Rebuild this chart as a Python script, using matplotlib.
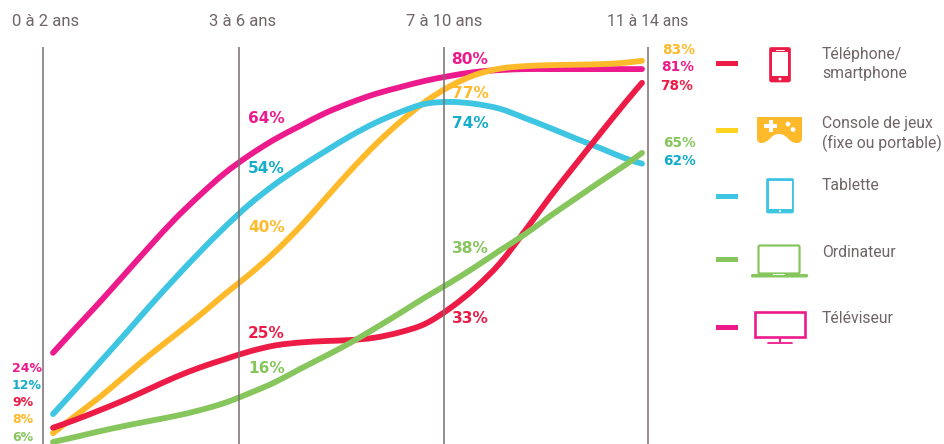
import matplotlib
matplotlib.use('Agg')
import matplotlib.pyplot as plt
from matplotlib.patches import Rectangle, FancyBboxPatch, PathPatch, Circle
from matplotlib.path import Path

plt.rcParams['font.family'] = ['Roboto', 'DejaVu Sans']

age_groups = ['0 à 2 ans', '3 à 6 ans', '7 à 10 ans', '11 à 14 ans']
devices = ['Téléphone/\nsmartphone', 'Console de jeux\n(fixe ou portable)', 'Tablette', 'Ordinateur', 'Téléviseur']

# horizontal position along the age scale
curve_x = [53, 75, 100, 125, 150, 175, 200, 225, 250, 275, 300, 325, 350, 375, 400, 425, 450,
           475, 500, 525, 550, 575, 600, 625, 642]

televiseur = [24.0, 28.9, 34.4, 40.1, 45.8, 51.3, 56.2, 60.7, 64.4, 67.6, 70.3, 72.9, 75.0, 76.8,
              78.2, 79.5, 80.5, 81.3, 81.7, 81.9, 81.9, 81.9, 81.9, 81.9, 81.9]
tablette = [11.5, 16.4, 22.1, 27.8, 33.6, 39.2, 44.6, 49.7, 54.4, 58.4, 61.9, 65.1, 68.2, 70.9,
            73.1, 74.8, 75.2, 74.8, 73.8, 71.9, 69.9, 67.8, 65.8, 63.7, 62.6]
console = [7.6, 11.1, 15.0, 19.3, 23.6, 27.6, 31.7, 36.0, 40.1, 44.6, 49.7, 55.4, 61.1, 66.4,
           71.1, 75.2, 78.4, 80.7, 82.0, 82.5, 82.7, 82.8, 82.9, 83.2, 83.6]
telephone = [8.7, 10.3, 12.3, 14.4, 16.7, 19.0, 21.0, 22.7, 24.3, 25.5, 26.1, 26.4, 26.6, 27.1,
             28.2, 29.9, 33.1, 37.2, 42.3, 48.9, 55.8, 62.3, 68.7, 75.0, 79.1]
ordinateur = [5.8, 6.8, 8.0, 9.1, 10.1, 11.1, 12.3, 13.8, 15.8, 18.0, 20.7, 23.3, 26.0, 29.0,
              32.1, 35.3, 38.3, 41.5, 44.9, 48.2, 51.9, 55.4, 58.9, 62.3, 64.8]

RED = '#ed1c47'
YELLOW = '#ffba2b'
BLUE = '#3ec5e2'
GREEN = '#87c65d'
PINK = '#ec1a8c'
BLUE_TXT = '#14adca'
GREY = '#6f6466'


def smooth_path(xs, ys):
    # bezier through the read points
    verts = [(xs[0], ys[0])]
    codes = [Path.MOVETO]
    n = len(xs)
    for i in range(n - 1):
        a = max(i - 1, 0)
        d = min(i + 2, n - 1)
        verts.append((xs[i] + (xs[i + 1] - xs[a]) / 6, ys[i] + (ys[i + 1] - ys[a]) / 6))
        verts.append((xs[i + 1] - (xs[d] - xs[i]) / 6, ys[i + 1] - (ys[d] - ys[i]) / 6))
        verts.append((xs[i + 1], ys[i + 1]))
        codes += [Path.CURVE4, Path.CURVE4, Path.CURVE4]
    return Path(verts, codes)


fig = plt.figure(figsize=(9.44, 4.44), dpi=100)
ax = fig.add_axes([0, 0, 1, 1])
ax.set_xlim(0, 944)
ax.set_ylim(5.39, 96.0)
ax.axis('off')

# overlay in picture units for texts and icons
px = fig.add_axes([0, 0, 1, 1], zorder=3)
px.set_xlim(0, 944)
px.set_ylim(444, 0)
px.axis('off')
px.patch.set_alpha(0)

for x, c, w in zip([43, 239, 444, 648], ['#77706f', '#77706f', '#77706f', '#979192'], [1.1, 1.1, 1.1, 1.5]):
    ax.plot([x, x], [5.39, 86.5], color=c, lw=w, solid_capstyle='butt')

for series, color in [(televiseur, PINK), (console, YELLOW), (tablette, BLUE), (telephone, RED), (ordinateur, GREEN)]:
    ax.add_patch(PathPatch(smooth_path(curve_x, series), fc='none', ec=color, lw=4.2,
                           capstyle='round', joinstyle='round'))

for label, x, s in zip(age_groups, [46, 243, 444, 648], [12, 12, 12, 11.3]):
    px.text(x, 21, label, color=GREY, fontsize=s, ha='center', va='center')

# percentage labels: text, x, y, colour, size
labels = [
    ('24%', 12, 368, PINK, 9), ('12%', 12, 385, BLUE_TXT, 9), ('9%', 12, 402, RED, 9),
    ('8%', 12, 419, YELLOW, 9), ('6%', 12, 437, GREEN, 9),
    ('64%', 248, 118, PINK, 11.1), ('54%', 248, 168, BLUE_TXT, 11.1), ('40%', 248, 227, YELLOW, 11.1),
    ('25%', 248, 333, RED, 11.1), ('16%', 248, 368, GREEN, 11.1),
    ('80%', 451, 59, PINK, 11.1), ('77%', 452, 94, YELLOW, 11.1), ('74%', 452, 123, BLUE_TXT, 11.1),
    ('38%', 452, 248, GREEN, 11.1), ('33%', 452, 318, RED, 11.1),
    ('83%', 662, 50, YELLOW, 9.8), ('81%', 661, 67, PINK, 9.8), ('78%', 660, 86, RED, 9.8),
    ('65%', 663, 143, GREEN, 9.8), ('62%', 663, 161, BLUE_TXT, 9.8),
]
for t, x, y, c, s in labels:
    px.text(x, y, t, color=c, fontsize=s, fontweight='bold', family='DejaVu Sans',
            ha='left', va='center')

# legend dashes and labels
for y, c in zip([64, 130, 196, 259, 327], [RED, '#ffd420', BLUE, GREEN, PINK]):
    px.add_patch(Rectangle((716, y - 2.5), 22, 5, color=c, lw=0))
for label, y in zip(devices, [64, 134, 185, 252, 318]):
    px.text(822, y, label, color=GREY, fontsize=11.3, ha='left', va='center', linespacing=1.3)

# phone
px.add_patch(FancyBboxPatch((769.5, 47.5), 21, 34.5, boxstyle='round,pad=0,rounding_size=2', fc=RED, ec=RED, lw=0.5))
px.add_patch(Rectangle((772, 52.5), 16, 23.5, fc='white', lw=0))
px.add_patch(Circle((780, 79), 1.4, fc='white', lw=0))
px.plot([776, 784], [50, 50], color='white', lw=0.7)

# game console
pad = Path([(757, 117), (802, 117), (802, 138), (802, 143), (797, 143), (788, 143), (788, 134), (779, 134),
            (770, 134), (770, 143), (761, 143), (757, 143), (757, 138), (757, 117)],
           [Path.MOVETO, Path.LINETO, Path.LINETO, Path.CURVE3, Path.CURVE3, Path.CURVE4, Path.CURVE4, Path.CURVE4,
            Path.CURVE4, Path.CURVE4, Path.CURVE4, Path.CURVE3, Path.CURVE3, Path.CLOSEPOLY])
px.add_patch(PathPatch(pad, fc=YELLOW, lw=0))
px.add_patch(Rectangle((763.5, 124), 13.5, 4, fc='white', lw=0))
px.add_patch(Rectangle((768.5, 120), 4, 12, fc='white', lw=0))
px.add_patch(Circle((788, 124), 2.4, fc='white', lw=0))
px.add_patch(Circle((793, 129.5), 2.4, fc='white', lw=0))

# tablet
px.add_patch(FancyBboxPatch((766.5, 178.5), 27, 34.5, boxstyle='round,pad=0,rounding_size=1.5', fc=BLUE, ec=BLUE, lw=0.5))
px.add_patch(Rectangle((768.5, 180.5), 23, 28.5, fc='white', lw=0))
px.add_patch(Circle((780, 211), 1.1, fc='white', lw=0))

# laptop
px.add_patch(FancyBboxPatch((758.5, 245.5), 41, 28, boxstyle='round,pad=0,rounding_size=1.5', fc='white', ec=GREEN, lw=1.6))
px.add_patch(FancyBboxPatch((751, 274), 57, 3.5, boxstyle='round,pad=0,rounding_size=1.5', fc=GREEN, lw=0))
px.add_patch(Rectangle((773, 274), 12, 1.2, fc='white', lw=0))

# television
px.add_patch(Rectangle((755, 312), 49.5, 25, fc='white', ec=PINK, lw=1.9))
px.plot([780, 780], [337, 342], color=PINK, lw=1.4, solid_capstyle='butt')
px.plot([768, 792], [342.5, 342.5], color=PINK, lw=1.3, solid_capstyle='round')

fig.savefig('out.png', dpi=100)
